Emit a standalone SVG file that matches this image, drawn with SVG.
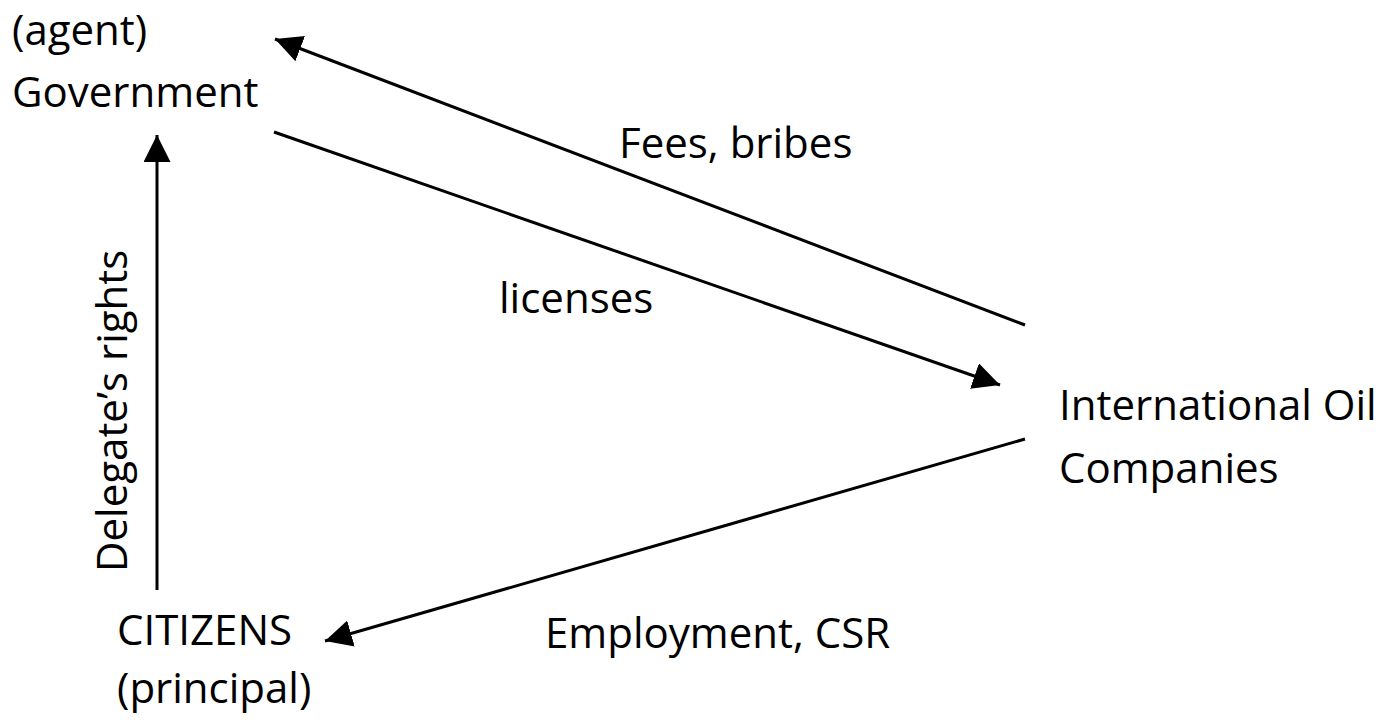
<svg xmlns="http://www.w3.org/2000/svg" width="1389" height="723" viewBox="0 0 1389 723">
  <style>
    text { font-family: "Open Sans", "Noto Sans", "Liberation Sans", sans-serif; font-size: 42px; fill: #000; }
    .edge { stroke: #000; stroke-width: 3; fill: none; }
  </style>
  <defs>
    <marker id="arrow" viewBox="0 0 10 10" refX="10" refY="5" markerWidth="9" markerHeight="9" markerUnits="strokeWidth" orient="auto">
      <path d="M0,0 L10,5 L0,10 z" fill="#000"/>
    </marker>
  </defs>
  <rect width="1389" height="723" fill="#fff"/>

  <g id="connectors">
    <line class="edge" x1="157" y1="590" x2="157" y2="135" marker-end="url(#arrow)"/>
    <line class="edge" x1="1025" y1="325" x2="275" y2="39" marker-end="url(#arrow)"/>
    <line class="edge" x1="274" y1="132" x2="1000" y2="385" marker-end="url(#arrow)"/>
    <line class="edge" x1="1025" y1="439" x2="325" y2="641" marker-end="url(#arrow)"/>
  </g>

  <g id="government">
    <text x="12" y="45">(agent)</text>
    <text x="12" y="107">Government</text>
  </g>

  <g id="oil-companies">
    <text x="1059" y="420">International Oil</text>
    <text x="1059" y="483">Companies</text>
  </g>

  <g id="citizens">
    <text x="117" y="645">CITIZENS</text>
    <text x="117" y="703">(principal)</text>
  </g>

  <g id="labels">
    <text x="619" y="158">Fees, bribes</text>
    <text x="499" y="313">licenses</text>
    <text x="545" y="648">Employment, CSR</text>
    <text transform="translate(127,572) rotate(-90)">Delegate’s rights</text>
  </g>
</svg>
